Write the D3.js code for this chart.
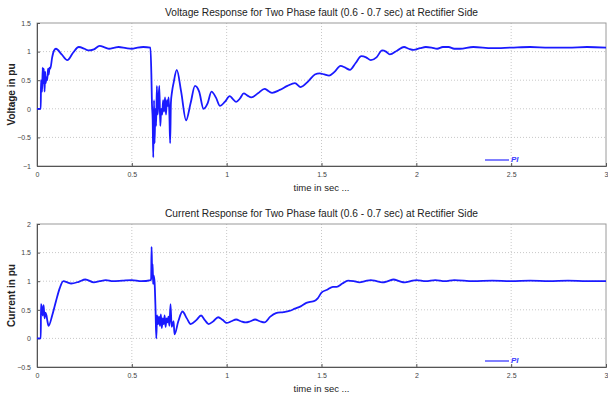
<!DOCTYPE html>
<html>
<head>
<meta charset="utf-8">
<script src="https://cdn.jsdelivr.net/npm/d3@7"></script>
<style>
  body { margin: 0; background: #fff; }
  svg { display: block; font-family: Arial, "Liberation Sans", sans-serif; }
</style>
</head>
<body>
<div class="chart"></div>
<script>
// time axis ticks shared by both panels
var timeTicks = [0, 0.5, 1, 1.5, 2, 2.5, 3];

// voltage response
var vTime = [0, 0.02, 0.021, 0.027, 0.03, 0.033, 0.036, 0.04, 0.043, 0.046, 0.05, 0.054, 0.058, 0.062, 0.066,
  0.07, 0.08, 0.09, 0.1, 0.13, 0.16, 0.19, 0.22, 0.25, 0.27, 0.3, 0.33, 0.36, 0.38, 0.41, 0.43, 0.47, 0.5, 0.53, 0.56, 0.598,
  0.603, 0.606, 0.61, 0.613, 0.617, 0.62, 0.624, 0.628, 0.632, 0.636, 0.64, 0.645, 0.65, 0.655, 0.66, 0.665, 0.67, 0.675,
  0.68, 0.685, 0.69, 0.694, 0.698, 0.702, 0.706, 0.712, 0.72, 0.737, 0.76, 0.786, 0.81, 0.833, 0.855, 0.878, 0.9, 0.92,
  0.943, 0.965, 0.99, 1.016, 1.033, 1.05, 1.07, 1.09, 1.11, 1.13, 1.165, 1.2, 1.22, 1.24, 1.28, 1.32, 1.36, 1.39, 1.43,
  1.465, 1.49, 1.515, 1.54, 1.57, 1.6, 1.625, 1.65, 1.68, 1.71, 1.735, 1.76, 1.79, 1.82, 1.84, 1.86, 1.9, 1.935, 1.96,
  1.985, 2.02, 2.05, 2.08, 2.11, 2.14, 2.17, 2.2, 2.23, 2.3, 2.4, 2.5, 2.6, 2.7, 2.8, 2.9, 3.0];
var vValues = [0, 0, 0.5, 0.3, 0.72, 0.45, 0.7, 0.3, 0.65, 0.45, 0.55, 0.5, 0.7, 0.6, 0.72,
  0.7, 0.9, 1.02, 1.05, 0.95, 0.85, 0.98, 1.08, 1.05, 1.02, 1.04, 1.1, 1.07, 1.05, 1.07, 1.08, 1.06, 1.05, 1.07, 1.08, 1.07,
  0.6, 0.1, -0.2, -0.85, 0.15, -0.6, 0.0, -0.3, 0.4, -0.1, 0.1, 0.4, -0.3, 0.0, -0.1, 0.15, -0.05, 0.2,
  -0.1, 0.15, 0.05, 0.2, -0.1, -0.6, 0.1, 0.3, 0.45, 0.68, 0.3, -0.2, 0.1, 0.4, 0.3, 0.0, 0.1, 0.3,
  0.2, 0.05, 0.12, 0.22, 0.17, 0.12, 0.18, 0.27, 0.23, 0.2, 0.27, 0.35, 0.31, 0.28, 0.33, 0.4, 0.45, 0.38, 0.48,
  0.6, 0.62, 0.6, 0.58, 0.65, 0.75, 0.72, 0.68, 0.8, 0.92, 0.9, 0.85, 0.9, 1.02, 1.0, 0.95, 1.02, 1.08, 1.05,
  1.03, 1.06, 1.08, 1.07, 1.05, 1.08, 1.08, 1.05, 1.05, 1.08, 1.06, 1.07, 1.08, 1.07, 1.07, 1.08, 1.07];

// current response
var iTime = [0, 0.02, 0.021, 0.025, 0.03, 0.035, 0.04, 0.045, 0.05, 0.055, 0.061, 0.08, 0.1, 0.12, 0.139, 0.16, 0.18,
  0.22, 0.255, 0.3, 0.33, 0.363, 0.4, 0.45, 0.5, 0.55, 0.6, 0.602, 0.604, 0.607, 0.61, 0.612, 0.615, 0.62, 0.625, 0.629,
  0.633, 0.638, 0.643, 0.648, 0.653, 0.658, 0.663, 0.668, 0.673, 0.678, 0.683, 0.688, 0.693, 0.698, 0.704, 0.71, 0.72,
  0.725, 0.745, 0.767, 0.79, 0.81, 0.84, 0.865, 0.885, 0.905, 0.93, 0.955, 0.98, 1.0, 1.025, 1.05, 1.075, 1.1, 1.125,
  1.15, 1.175, 1.2, 1.23, 1.26, 1.3, 1.33, 1.36, 1.39, 1.42, 1.44, 1.46, 1.48, 1.5, 1.53, 1.56, 1.58, 1.61, 1.64, 1.67,
  1.7, 1.73, 1.76, 1.79, 1.82, 1.85, 1.88, 1.91, 1.94, 1.97, 2.0, 2.05, 2.1, 2.15, 2.2, 2.3, 2.4, 2.5, 2.6, 2.7, 2.8,
  2.9, 3.0];
var iValues = [0, 0, 0.6, 0.55, 0.4, 0.58, 0.35, 0.45, 0.4, 0.3, 0.22, 0.4, 0.65, 0.88, 1.0, 0.98, 0.96,
  0.99, 1.03, 0.98, 1.0, 1.02, 1.0, 1.01, 1.02, 1.0, 1.02, 1.05, 1.6, 1.2, 1.3, 0.95, 1.1, 0.98, 0.5, 0.0,
  0.4, 0.25, 0.38, 0.22, 0.42, 0.18, 0.35, 0.25, 0.4, 0.2, 0.35, 0.28, 0.38, 0.22, 0.6, 0.2, 0.3,
  0.07, 0.3, 0.47, 0.35, 0.25, 0.32, 0.4, 0.32, 0.25, 0.3, 0.37, 0.32, 0.27, 0.3, 0.33, 0.3, 0.28, 0.3,
  0.33, 0.3, 0.28, 0.38, 0.44, 0.46, 0.48, 0.52, 0.56, 0.62, 0.64, 0.65, 0.7, 0.8, 0.85, 0.9, 0.9, 0.96, 1.01, 1.0,
  0.98, 1.0, 1.02, 1.0, 0.98, 1.0, 1.03, 1.0, 0.98, 1.0, 1.02, 1.0, 1.02, 1.0, 1.02, 1.0, 1.01, 1.0, 1.01, 1.0, 1.01,
  1.0, 1.0];

var panels = [
  { title: "Voltage Response for Two Phase fault (0.6 - 0.7 sec) at Rectifier Side", ylabel: "Voltage in pu",
    top: 23, bottom: 166, yDomain: [-1, 1.5], yTicks: [-1, -0.5, 0, 0.5, 1, 1.5], t: vTime, v: vValues },
  { title: "Current Response for Two Phase fault (0.6 - 0.7 sec) at Rectifier Side", ylabel: "Current in pu",
    top: 224, bottom: 367, yDomain: [-0.5, 2], yTicks: [-0.5, 0, 0.5, 1, 1.5, 2], t: iTime, v: iValues }
];

var width = 608, height = 396;
var left = 37, right = 606;

var svg = d3.select(".chart").append("svg")
  .attr("width", width)
  .attr("height", height);

var x = d3.scaleLinear().domain([0, 3]).range([left, right]);

panels.forEach(function (p) {
  var y = d3.scaleLinear().domain(p.yDomain).range([p.bottom, p.top]);
  var g = svg.append("g");

  // grid
  g.append("g")
    .attr("stroke", "#c8c8c8")
    .attr("stroke-dasharray", "1,2")
    .selectAll("line.v")
    .data(timeTicks.slice(1, -1))
    .join("line")
    .attr("x1", d => x(d)).attr("x2", d => x(d))
    .attr("y1", p.top).attr("y2", p.bottom);
  g.append("g")
    .attr("stroke", "#c8c8c8")
    .attr("stroke-dasharray", "1,2")
    .selectAll("line.h")
    .data(p.yTicks.slice(1, -1))
    .join("line")
    .attr("x1", left).attr("x2", right)
    .attr("y1", d => y(d)).attr("y2", d => y(d));

  // box
  g.append("rect")
    .attr("x", left).attr("y", p.top)
    .attr("width", right - left).attr("height", p.bottom - p.top)
    .attr("fill", "none").attr("stroke", "#9a9a9a").attr("stroke-width", 1);

  // axes
  var xAxis = g.append("g")
    .attr("transform", `translate(0,${p.bottom})`)
    .call(d3.axisBottom(x).tickValues(timeTicks).tickSize(-3).tickPadding(6).tickFormat(d3.format("")));
  var yAxis = g.append("g")
    .attr("transform", `translate(${left},0)`)
    .call(d3.axisLeft(y).tickValues(p.yTicks).tickSize(-3).tickPadding(6).tickFormat(d3.format("")));
  [xAxis, yAxis].forEach(function (a) {
    a.select(".domain").attr("stroke", "#555");
    a.selectAll(".tick line").attr("stroke", "#555");
    a.selectAll("text").attr("font-size", 7).attr("fill", "#444");
  });

  // series
  var line = d3.line()
    .x((d, i) => x(p.t[i]))
    .y(d => y(d))
    .curve(d3.curveMonotoneX);
  g.append("path")
    .datum(p.v)
    .attr("fill", "none")
    .attr("stroke", "#1a1aff")
    .attr("stroke-width", 1.8)
    .attr("stroke-linejoin", "round")
    .attr("d", line);

  // legend
  g.append("line")
    .attr("x1", 485).attr("x2", 509)
    .attr("y1", p.bottom - 6).attr("y2", p.bottom - 6)
    .attr("stroke", "#8080ff").attr("stroke-width", 2);
  g.append("text")
    .attr("x", 511).attr("y", p.bottom - 4)
    .attr("font-size", 8).attr("font-style", "italic").attr("font-weight", "bold")
    .attr("fill", "#3a3aff")
    .text("PI");

  // labels
  g.append("text")
    .attr("x", (left + right) / 2).attr("y", p.top - 7)
    .attr("text-anchor", "middle").attr("font-size", 10.2).attr("fill", "#222")
    .text(p.title);
  g.append("text")
    .attr("x", (left + right) / 2).attr("y", p.bottom + 25)
    .attr("text-anchor", "middle").attr("font-size", 9.5).attr("fill", "#222")
    .text("time in sec ...");
  g.append("text")
    .attr("transform", `translate(15,${(p.top + p.bottom) / 2}) rotate(-90)`)
    .attr("text-anchor", "middle").attr("font-size", 10).attr("font-weight", "bold").attr("fill", "#222")
    .text(p.ylabel);
});
</script>
</body>
</html>
